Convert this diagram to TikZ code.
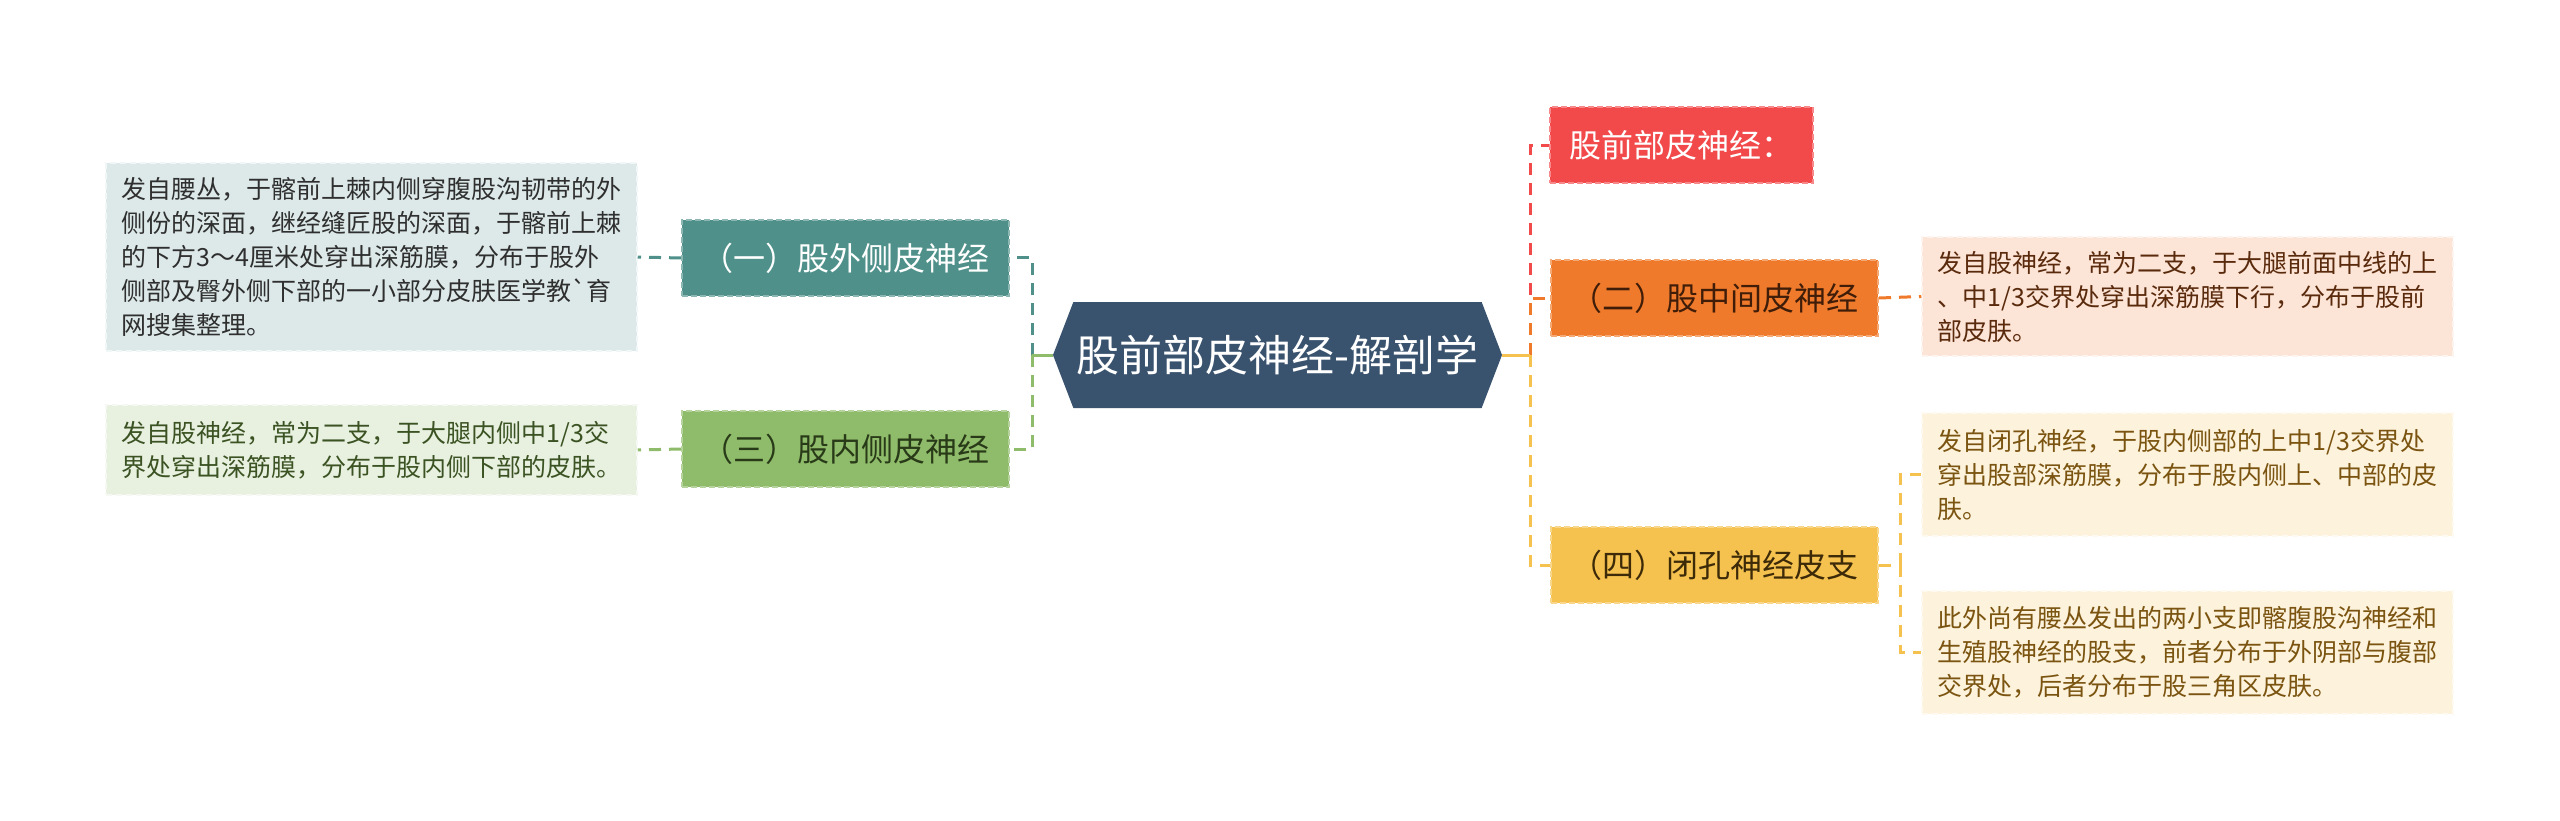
\documentclass[tikz,border=0pt]{standalone}
\usepackage{fontspec}
\setmainfont{Noto Sans CJK SC}[Ligatures=TeXOff]
\usetikzlibrary{shapes.symbols}
\definecolor{hubblue}{HTML}{39536F}
\definecolor{tealc}{HTML}{4F918A}
\definecolor{greenc}{HTML}{8FBC6A}
\definecolor{redc}{HTML}{F2494B}
\definecolor{orangec}{HTML}{F07A2B}
\definecolor{yellowc}{HTML}{F5C24F}
\definecolor{tealbg}{HTML}{DDE9E9}
\definecolor{greenbg}{HTML}{E8F0E0}
\definecolor{orangebg}{HTML}{FCE4D6}
\definecolor{yellowbg}{HTML}{FDF2DB}
\definecolor{greentext}{HTML}{3B5323}
\definecolor{browntext}{HTML}{5A2A0D}
\definecolor{goldtext}{HTML}{7A5410}
\definecolor{darktext}{HTML}{2F2F2F}

\begin{document}
\begin{tikzpicture}[
  x=1pt, y=-1pt,  hub/.style={signal,signal to=west and east,signal pointer angle=138,fill=hubblue,text=white,minimum width=449pt,minimum height=106pt,inner sep=0pt,font=\fontsize{43}{50}\selectfont},  branch/.style={rectangle,fill=#1,draw=#1!65!white,dash pattern=on 6pt off 3pt,line width=2pt,minimum height=76pt,inner xsep=19.5pt,inner ysep=0pt,align=left,font=\fontsize{32}{38}\selectfont},  leaf/.style={rectangle,fill=#1,draw=#1!40!white,dash pattern=on 6pt off 4pt,line width=1.5pt,text width=500pt,inner xsep=15.5pt,inner ysep=0pt,align=left,font=\fontsize{25}{34}\selectfont},  link/.style={line width=3pt,dash pattern=on 12pt off 8pt}
]
  \fill[white] (0,0) rectangle (2560,821);
  \useasboundingbox (0,0) rectangle (2560,821);
  \node[hub] (hub) at (1277.5,355) {股前部皮神经-解剖学};
  \node[branch=tealc,text=white,text width=288pt] (lat) at (845.5,258) {（一）股外侧皮神经};
  \node[branch=greenc,text=greentext!70!black,text width=288pt] (med) at (845.5,449) {（三）股内侧皮神经};
  \node[branch=redc,text=white,text width=224pt] (ant) at (1681.5,145.5) {股前部皮神经：};
  \node[branch=orangec,text=browntext!70!black,text width=288pt] (mid) at (1714.5,298) {（二）股中间皮神经};
  \node[branch=yellowc,text=goldtext!50!black,text width=288pt] (obt) at (1714.5,565) {（四）闭孔神经皮支};
  \node[leaf=tealbg,text=darktext,minimum height=188pt] (latd) at (371.5,257) {发自腰丛，于髂前上棘内侧穿腹股沟韧带的外\\侧份的深面，继经缝匠股的深面，于髂前上棘\\的下方3～4厘米处穿出深筋膜，分布于股外\\侧部及臀外侧下部的一小部分皮肤医学教`育\\网搜集整理。};
  \node[leaf=greenbg,text=greentext,minimum height=90pt] (medd) at (371.5,450) {发自股神经，常为二支，于大腿内侧中1/3交\\界处穿出深筋膜，分布于股内侧下部的皮肤。};
  \node[leaf=orangebg,text=browntext,minimum height=119pt] (midd) at (2187.5,296.5) {发自股神经，常为二支，于大腿前面中线的上\\、中1/3交界处穿出深筋膜下行，分布于股前\\部皮肤。};
  \node[leaf=yellowbg,text=goldtext,minimum height=123pt] (obta) at (2187.5,474.5) {发自闭孔神经，于股内侧部的上中1/3交界处\\穿出股部深筋膜，分布于股内侧上、中部的皮\\肤。};
  \node[leaf=yellowbg,text=goldtext,minimum height=123pt] (obtb) at (2187.5,652.5) {此外尚有腰丛发出的两小支即髂腹股沟神经和\\生殖股神经的股支，前者分布于外阴部与腹部\\交界处，后者分布于股三角区皮肤。};
  \coordinate (lj) at (1032,355);
  \coordinate (rj) at (1530,355);
  \coordinate (oj) at (1900,565);
  \draw[link,tealc] (lj) |- (lat.east);
  \draw[link,greenc] (lj) |- (med.east);
  \draw[line width=3pt,greenc] (hub.west) -- (lj);
  \draw[link,redc] (rj) |- (ant.west);
  \draw[link,orangec] (rj) |- (mid.west);
  \draw[link,yellowc] (rj) |- (obt.west);
  \draw[line width=3pt,yellowc] (hub.east) -- (rj);
  \draw[link,tealc] (lat.west) -- (latd.east);
  \draw[link,greenc] (med.west) -- (medd.east);
  \draw[link,orangec] (mid.east) -- (midd.west);
  \draw[link,yellowc] (obt.east) -- (oj);
  \draw[link,yellowc] (oj) |- (obta.west);
  \draw[link,yellowc] (oj) |- (obtb.west);
\end{tikzpicture}
\end{document}
